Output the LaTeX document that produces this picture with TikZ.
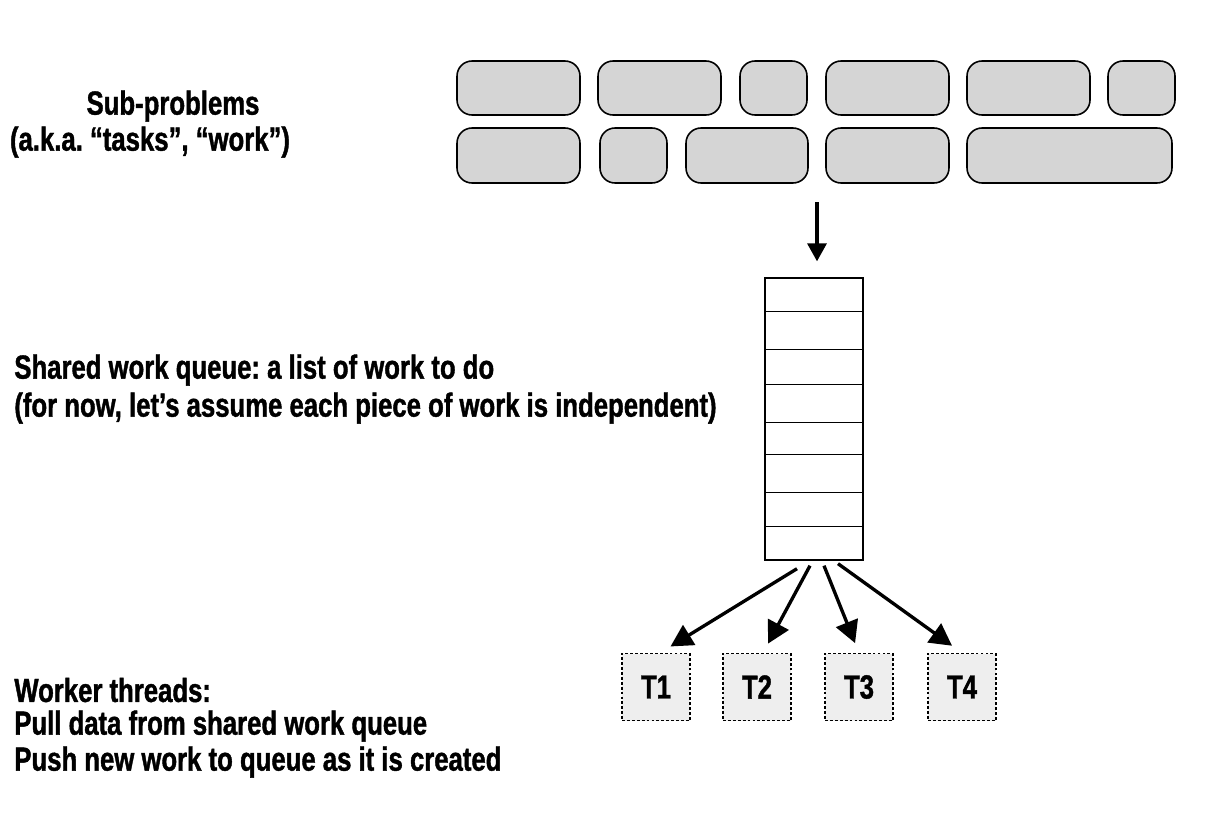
\documentclass[tikz,border=0pt]{standalone}
\usepackage{fontspec}
\setmainfont{Liberation Sans}[FakeStretch=0.77, BoldFeatures={FakeBold=1.2}]
\usepackage{tikz}
\usetikzlibrary{positioning,calc,arrows.meta}
\frenchspacing

\definecolor{taskgray}{HTML}{D5D5D5}
\definecolor{threadgray}{HTML}{EEEEEE}

\begin{document}
\begin{tikzpicture}[x=0.02cm, y=-0.02cm,
    every node/.style={font=\bfseries\fontsize{19}{22}\selectfont},
    task/.style={rectangle, rounded corners=0.3cm, draw, line width=0.9pt, fill=taskgray, inner sep=0pt},
    wide/.style={task, minimum width=2.46cm},
    narrow/.style={task, minimum width=1.34cm},
    thread/.style={rectangle, draw, dashed, dash pattern=on 1.6pt off 1.2pt, line width=0.7pt, fill=threadgray, minimum width=1.36cm, minimum height=1.34cm, inner sep=0pt},
    label/.style={anchor=west, inner sep=0pt},
    arrow/.style={-{Triangle[length=0.44cm, width=0.46cm]}, line width=1.9pt}]
    \useasboundingbox (0,0) rectangle (1206,822);

    % sub-problems
    \node[wide, minimum height=1.08cm] (a1) at (518.5,88) {};
    \node[wide, minimum height=1.08cm] (a2) at (659.5,88) {};
    \node[narrow, minimum height=1.08cm] (a3) at (773.5,88) {};
    \node[wide, minimum height=1.08cm] (a4) at (887.5,88) {};
    \node[wide, minimum height=1.08cm] (a5) at (1028.5,88) {};
    \node[narrow, minimum height=1.08cm] (a6) at (1141.5,88) {};
    \node[wide, minimum height=1.1cm] (b1) at (518.5,155.5) {};
    \node[narrow, minimum height=1.1cm] (b2) at (633.5,155.5) {};
    \node[wide, minimum height=1.1cm, minimum width=2.44cm] (b3) at (747,155.5) {};
    \node[wide, minimum height=1.1cm] (b4) at (887.5,155.5) {};
    \node[task, minimum height=1.1cm, minimum width=4.1cm] (b5) at (1069.5,155.5) {};

    \node (sub) at (173,106) {Sub-problems};
    \node (aka) at (150,142) {(a.k.a. “tasks”, “work”)};

    % shared queue
    \node[rectangle, draw, line width=0.8pt, minimum width=1.96cm, minimum height=5.64cm, inner sep=0pt] (queue) at (814,419) {};
    \draw[line width=0.8pt] (queue.north west) ++(0,34) -- ++(98,0);
    \draw[line width=0.8pt] (queue.north west) ++(0,72) -- ++(98,0);
    \draw[line width=0.8pt] (queue.north west) ++(0,107) -- ++(98,0);
    \draw[line width=0.8pt] (queue.north west) ++(0,145) -- ++(98,0);
    \draw[line width=0.8pt] (queue.north west) ++(0,177) -- ++(98,0);
    \draw[line width=0.8pt] (queue.north west) ++(0,215) -- ++(98,0);
    \draw[line width=0.8pt] (queue.north west) ++(0,249) -- ++(98,0);
    \draw[arrow, -{Triangle[length=0.36cm, width=0.38cm]}] (queue.north) ++(3,-75) -- ++(0,59);

    \node[label] (shared) at (14,370) {Shared work queue: a list of work to do};
    \node[label] (indep) at (14,408) {(for now, let’s assume each piece of work is independent)};

    % worker threads
    \node[thread] (T1) at (656,687) {T1};
    \node[thread] (T2) at (757,687) {T2};
    \node[thread] (T3) at (859,687) {T3};
    \node[thread] (T4) at (962,687) {T4};
    \draw[arrow, shorten >=7pt] ([shift={(-17,8)}]queue.south) -- ([shift={(4,0)}]T1.north);
    \draw[arrow, shorten >=6pt] ([shift={(-4,5)}]queue.south) -- ([shift={(6,0)}]T2.north);
    \draw[arrow, shorten >=6pt] ([shift={(10,5)}]queue.south) -- (T3.north);
    \draw[arrow, shorten >=7pt] ([shift={(24,3)}]queue.south) -- (T4.north);

    \node[label] (workers) at (14,690) {Worker threads:};
    \node[label] (pull) at (14,726) {Pull data from shared work queue};
    \node[label] (push) at (14,762) {Push new work to queue as it is created};
\end{tikzpicture}
\end{document}
